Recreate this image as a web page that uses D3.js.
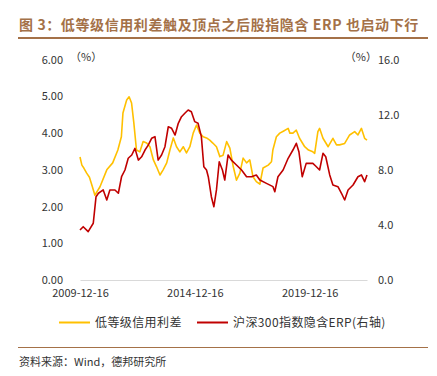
<!DOCTYPE html>
<html>
<head>
<meta charset="utf-8">
<script src="https://cdn.jsdelivr.net/npm/d3@7"></script>
<style>
  body { margin: 0; background: #fff; }
  svg text { font-family: "Noto Sans CJK SC", "DejaVu Sans", sans-serif; }
</style>
</head>
<body>
<div id="chart"></div>
<script>
const width = 437;
const height = 376;

// low-grade credit spread (left axis, %)
const spreadDates = ["2009-12-16","2010-01-15","2010-02-15","2010-04-01","2010-05-15","2010-07-01","2010-08-10","2010-10-30","2011-02-15","2011-05-20","2011-08-10","2011-10-05","2011-10-30","2011-12-28","2012-02-05","2012-03-15","2012-04-20","2012-06-01","2012-07-25","2012-09-15","2012-11-10","2013-01-01","2013-02-25","2013-04-15","2013-06-10","2013-07-30","2013-09-25","2013-11-15","2014-01-08","2014-02-28","2014-04-22","2014-06-15","2014-08-05","2014-09-28","2014-11-20","2015-01-12","2015-03-05","2015-04-28","2015-06-20","2015-08-10","2015-09-28","2015-11-25","2016-01-18","2016-03-10","2016-05-05","2016-06-25","2016-08-18","2016-10-08","2016-12-01","2017-01-22","2017-03-18","2017-05-08","2017-06-28","2017-08-20","2017-10-15","2017-12-05","2018-02-25","2018-04-18","2018-05-10","2018-07-05","2018-08-28","2018-10-30","2019-01-08","2019-02-05","2019-03-25","2019-05-18","2019-07-08","2019-09-28","2019-11-28","2020-02-05","2020-03-05","2020-04-25","2020-05-22","2020-07-15","2020-10-05","2020-12-20","2021-02-15","2021-04-05","2021-06-25","2021-09-12","2021-12-01","2022-01-22","2022-03-18","2022-05-08","2022-06-15"];
const spreadValues = [3.35,3.13,3.05,2.91,2.80,2.54,2.31,2.54,3.00,3.19,3.54,3.90,4.55,4.90,4.99,4.82,4.28,3.54,3.49,3.77,3.73,3.63,3.27,3.09,2.86,3.00,3.19,3.54,3.87,3.63,3.49,3.63,3.46,3.63,4.00,4.22,4.00,3.90,3.87,3.81,3.73,3.63,3.36,3.40,3.77,3.59,3.09,2.72,2.91,3.32,3.19,3.27,2.81,2.68,2.61,3.05,3.13,3.22,3.54,3.90,4.00,4.06,4.13,4.00,4.00,4.08,3.86,3.63,3.54,3.49,3.45,4.04,4.13,3.86,3.63,3.86,3.68,3.68,3.72,3.95,4.04,3.95,4.13,3.86,3.81];

// CSI 300 implied ERP (right axis, %)
const erpDates = ["2009-12-16","2010-02-05","2010-04-25","2010-07-15","2010-08-28","2010-10-05","2010-12-20","2011-02-15","2011-04-05","2011-06-25","2011-08-18","2011-10-08","2011-12-01","2012-01-22","2012-03-18","2012-05-08","2012-07-01","2012-08-22","2012-10-15","2012-12-05","2013-01-28","2013-03-22","2013-05-12","2013-07-05","2013-08-28","2013-10-20","2013-12-12","2014-02-05","2014-03-28","2014-05-18","2014-07-10","2014-09-01","2014-10-22","2014-12-15","2015-02-05","2015-03-30","2015-05-08","2015-06-20","2015-07-18","2015-09-05","2015-10-15","2015-11-25","2016-01-08","2016-02-28","2016-04-05","2016-05-28","2016-07-20","2016-10-08","2016-12-28","2017-03-18","2017-06-05","2017-08-20","2017-10-15","2018-01-28","2018-05-12","2018-06-10","2018-07-30","2018-10-20","2019-01-08","2019-03-25","2019-05-18","2019-06-28","2019-08-20","2019-10-22","2020-02-05","2020-03-20","2020-05-22","2020-07-15","2020-08-28","2020-10-30","2020-12-20","2021-03-10","2021-05-05","2021-06-25","2021-08-18","2021-11-05","2022-01-22","2022-03-18","2022-05-08","2022-06-15"];
const erpValues = [3.63,3.87,3.51,4.12,6.05,6.30,6.54,5.81,6.54,6.54,6.30,7.50,7.99,8.84,9.08,9.56,8.71,8.95,9.44,9.80,10.29,10.41,8.71,9.08,9.68,11.13,11.02,10.53,11.38,11.86,12.11,12.35,12.22,11.50,11.38,10.41,8.23,7.99,7.50,6.05,5.32,6.54,8.59,7.99,7.26,9.08,8.71,8.35,7.99,7.50,7.50,7.63,7.26,7.02,6.78,6.41,7.50,7.99,8.84,9.44,9.93,9.32,7.50,8.47,8.47,8.28,7.99,9.20,8.95,7.63,6.90,6.78,6.30,5.81,6.54,6.90,7.50,7.63,7.14,7.63];

const xTicks = ["2009-12-16","2014-12-16","2019-12-16"];
const leftTicks = [0, 1, 2, 3, 4, 5, 6];
const rightTicks = [0, 4, 8, 12, 16];

const titleText = "图 3：低等级信用利差触及顶点之后股指隐含 ERP 也启动下行";
const seriesNames = ["低等级信用利差", "沪深300指数隐含ERP(右轴)"];
const sourceText = "资料来源：Wind，德邦研究所";

const parse = d3.timeParse("%Y-%m-%d");
const spread = spreadDates.map((d, i) => ({ date: parse(d), value: spreadValues[i] }));
const erp = erpDates.map((d, i) => ({ date: parse(d), value: erpValues[i] }));

const brown = "#a47148";
const yellow = "#ffc000";
const red = "#c00000";

const svg = d3.select("#chart")
    .append("svg")
    .attr("width", width)
    .attr("height", height);

// title + rule
svg.append("text")
    .attr("x", 19)
    .attr("y", 30)
    .attr("fill", brown)
    .attr("font-size", 14)
    .attr("font-weight", "bold")
    .style("letter-spacing", "0.6px")
    .text(titleText);

svg.append("line")
    .attr("x1", 18).attr("x2", 428)
    .attr("y1", 38).attr("y2", 38)
    .attr("stroke", brown)
    .attr("stroke-width", 2);

const x = d3.scaleTime()
    .domain([parse("2009-12-16"), parse("2022-06-15")])
    .range([80, 367]);

const yLeft = d3.scaleLinear().domain([0, 6]).range([280, 59.7]);
const yRight = d3.scaleLinear().domain([0, 16]).range([280, 59.7]);

// x axis
const xAxis = svg.append("g")
    .attr("transform", "translate(0,280)")
    .call(d3.axisBottom(x)
        .tickValues(xTicks.map(parse))
        .tickSize(0)
        .tickPadding(9)
        .tickFormat(d3.timeFormat("%Y-%m-%d")));
xAxis.select(".domain").attr("stroke", "#d9d9d9");
xAxis.selectAll("text")
    .attr("font-size", 11)
    .attr("fill", "#333")
    .attr("font-family", "\"DejaVu Sans\", sans-serif");

// left axis
const leftAxis = svg.append("g")
    .attr("transform", "translate(66,0)")
    .call(d3.axisLeft(yLeft)
        .tickValues(leftTicks)
        .tickSize(0)
        .tickPadding(3)
        .tickFormat(d3.format(".2f")));
leftAxis.select(".domain").remove();
leftAxis.selectAll("text")
    .attr("font-size", 11)
    .attr("fill", "#333")
    .attr("font-family", "\"DejaVu Sans\", sans-serif");

// right axis
const rightAxis = svg.append("g")
    .attr("transform", "translate(375,0)")
    .call(d3.axisRight(yRight)
        .tickValues(rightTicks)
        .tickSize(0)
        .tickPadding(3)
        .tickFormat(d3.format(".1f")));
rightAxis.select(".domain").remove();
rightAxis.selectAll("text")
    .attr("font-size", 11)
    .attr("fill", "#333")
    .attr("font-family", "\"DejaVu Sans\", sans-serif");

// unit labels
svg.append("text")
    .attr("x", 70).attr("y", 61)
    .attr("font-size", 11)
    .attr("fill", "#333")
    .text("（%）");
svg.append("text")
    .attr("x", 377).attr("y", 61)
    .attr("text-anchor", "end")
    .attr("font-size", 11)
    .attr("fill", "#333")
    .text("（%）");

// lines
const lineLeft = d3.line()
    .x(d => x(d.date))
    .y(d => yLeft(d.value));
const lineRight = d3.line()
    .x(d => x(d.date))
    .y(d => yRight(d.value));

svg.append("path")
    .datum(spread)
    .attr("fill", "none")
    .attr("stroke", yellow)
    .attr("stroke-width", 1.6)
    .attr("stroke-linejoin", "round")
    .attr("d", lineLeft);

svg.append("path")
    .datum(erp)
    .attr("fill", "none")
    .attr("stroke", red)
    .attr("stroke-width", 1.6)
    .attr("stroke-linejoin", "round")
    .attr("d", lineRight);

// legend
const legend = [
    { name: seriesNames[0], color: yellow, x: 59 },
    { name: seriesNames[1], color: red, x: 197 }
];
legend.forEach(l => {
    svg.append("line")
        .attr("x1", l.x).attr("x2", l.x + 31)
        .attr("y1", 322.5).attr("y2", 322.5)
        .attr("stroke", l.color)
        .attr("stroke-width", 2);
    svg.append("text")
        .attr("x", l.x + 36)
        .attr("y", 327)
        .attr("font-size", 12)
        .attr("fill", "#333")
        .style("letter-spacing", "0.4px")
        .text(l.name);
});

// bottom rule + source
svg.append("line")
    .attr("x1", 18).attr("x2", 428)
    .attr("y1", 347.5).attr("y2", 347.5)
    .attr("stroke", brown)
    .attr("stroke-width", 1.2);

svg.append("text")
    .attr("x", 19)
    .attr("y", 366)
    .attr("font-size", 11)
    .attr("fill", "#333")
    .text(sourceText);
</script>
</body>
</html>
